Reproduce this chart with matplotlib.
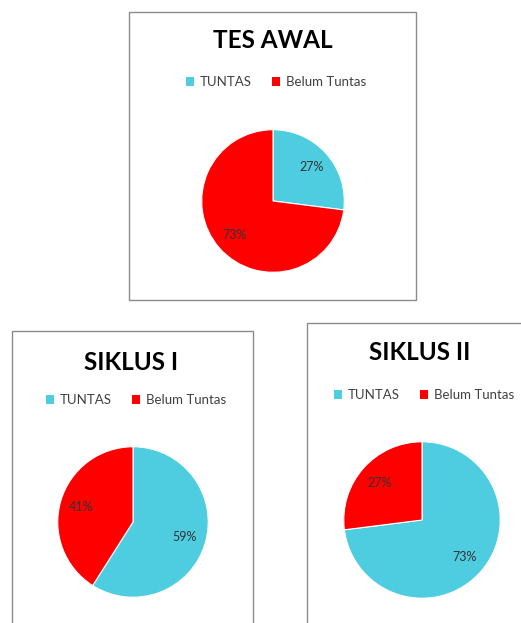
import matplotlib.pyplot as plt
from matplotlib.patches import Patch, Rectangle

W, H = 521, 623

# data
titles = ['TES AWAL', 'SIKLUS I', 'SIKLUS II']
categories = ['TUNTAS', 'Belum Tuntas']
tuntas = [27, 59, 73]
belum = [73, 41, 27]
colors = ['#4ECDE0', '#FF0000']

# layout in pixels (top-left origin)
boxes = [(129, 12, 416, 300), (12, 331, 253, 640), (307, 323, 530, 640)]
pies = [(273, 201, 72), (133, 522, 76), (422, 520, 79)]
title_pos = [(273, 40), (131, 362), (420, 353)]
legend_pos = [(276, 82), (136, 400), (424, 395)]

plt.rcParams['font.family'] = ['Lato', 'DejaVu Sans']
fig = plt.figure(figsize=(W / 100, H / 100), dpi=100)


def fx(x):
    return x / W


def fy(y):
    return 1 - y / H


for i in range(3):
    x0, y0, x1, y1 = boxes[i]
    fig.patches.append(Rectangle((fx(x0), fy(y1)), fx(x1) - fx(x0), fy(y0) - fy(y1),
                                 transform=fig.transFigure, fill=False,
                                 edgecolor='#8c8c8c', linewidth=1.0))

    cx, cy, r = pies[i]
    ax = fig.add_axes([fx(cx - r), fy(cy + r), 2 * r / W, 2 * r / H])
    ax.pie([tuntas[i], belum[i]], colors=colors, startangle=90, counterclock=False,
           autopct=lambda p: f'{p:.0f}%', pctdistance=0.72, radius=1,
           wedgeprops=dict(edgecolor='white', linewidth=0.8),
           textprops=dict(color='#333333', fontsize=9))
    ax.set_xlim(-1.01, 1.01)
    ax.set_ylim(-1.01, 1.01)
    ax.axis('off')

    tx, ty = title_pos[i]
    fig.text(fx(tx), fy(ty), titles[i], ha='center', va='center',
             fontsize=17.5, fontweight='bold', color='black')

    handles = [Patch(facecolor=c, edgecolor='none') for c in colors]
    lx, ly = legend_pos[i]
    fig.legend(handles, categories, loc='center', bbox_to_anchor=(fx(lx), fy(ly)),
               ncol=2, frameon=False, fontsize=9.5, handlelength=0.6,
               handleheight=0.6, handletextpad=0.4, columnspacing=1.6,
               labelcolor='#404040')

plt.savefig('out.png', dpi=100)
